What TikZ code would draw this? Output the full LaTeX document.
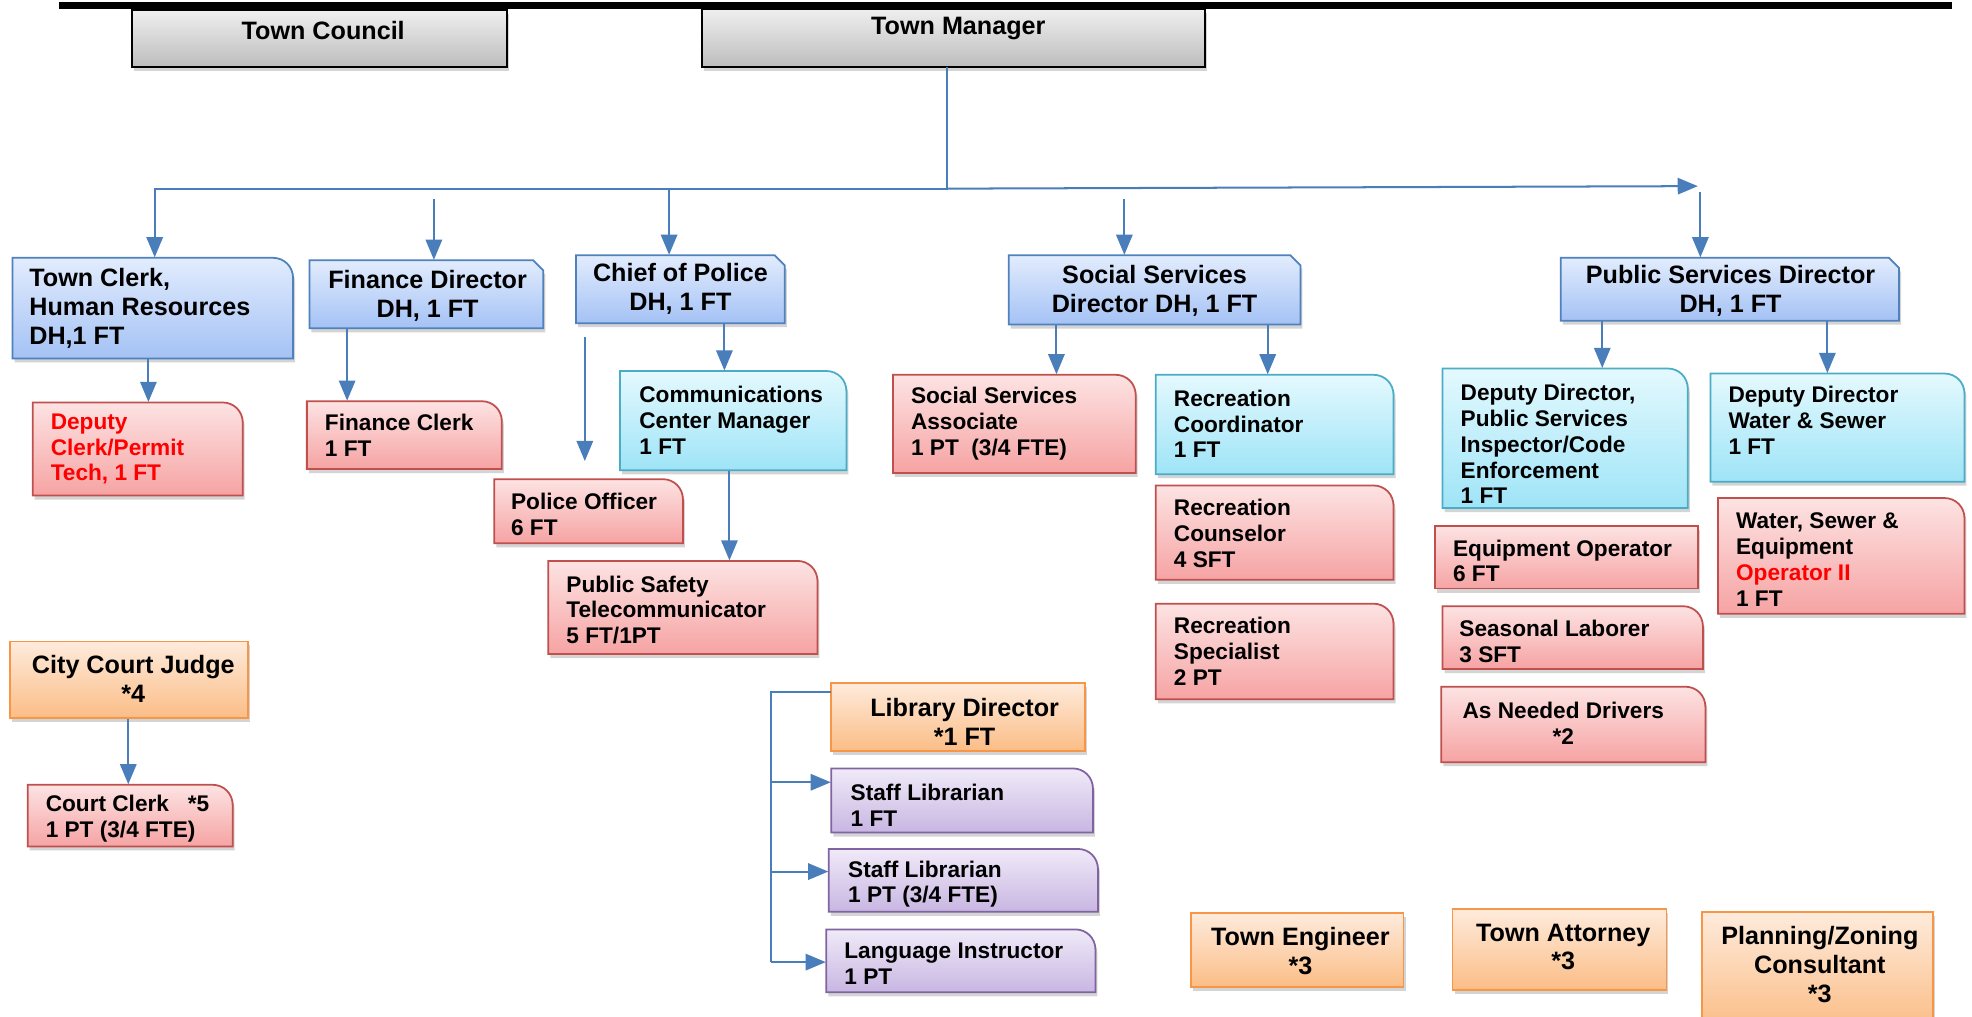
\documentclass[tikz,border=0pt]{standalone}
\usepackage{fontspec}
\setmainfont{Liberation Sans}
\usetikzlibrary{arrows.meta,shadows}
\definecolor{arrc}{HTML}{4A7EBB}
\definecolor{bluT}{HTML}{E2ECFD}
\definecolor{bluB}{HTML}{A4C2F5}
\definecolor{bluD}{HTML}{4F81BD}
\definecolor{cyaT}{HTML}{E4F9FE}
\definecolor{cyaB}{HTML}{9EE4F7}
\definecolor{cyaD}{HTML}{4BACC6}
\definecolor{redT}{HTML}{FDE3E3}
\definecolor{redB}{HTML}{F6A3A3}
\definecolor{redD}{HTML}{C0504D}
\definecolor{oraT}{HTML}{FEEBDC}
\definecolor{oraB}{HTML}{FBBD86}
\definecolor{oraD}{HTML}{F79646}
\definecolor{purT}{HTML}{F0EAF8}
\definecolor{purB}{HTML}{C8B6E2}
\definecolor{purD}{HTML}{8064A2}
\definecolor{gryT}{HTML}{EFEFEF}
\definecolor{gryB}{HTML}{BDBDBD}
\tikzset{
  shd/.style={drop shadow={opacity=0.3,shadow xshift=0.8pt,shadow yshift=-1.6pt,fill=black!55}},
  bluef/.style={top color=bluT,bottom color=bluB,draw=bluD,line width=0.7pt},
  cyaf/.style={top color=cyaT,bottom color=cyaB,draw=cyaD,line width=0.7pt},
  redf/.style={top color=redT,bottom color=redB,draw=redD,line width=0.7pt},
  oraf/.style={top color=oraT,bottom color=oraB,draw=oraD,line width=0.7pt},
  purf/.style={top color=purT,bottom color=purB,draw=purD,line width=0.7pt},
  gryf/.style={top color=gryT,bottom color=gryB,draw=black,line width=0.8pt},
  boxframe/.style={inner sep=0pt,draw=none,rectangle},
  tn/.style={inner sep=0pt,font=\bfseries\fontsize{9}{10.3}\selectfont,align=left},
  tb/.style={inner sep=0pt,font=\bfseries\fontsize{10}{11.5}\selectfont,align=center},
  arr/.style={draw=arrc,line width=0.8pt,-{Triangle[length=8pt,width=6.5pt]}},
  ln/.style={draw=arrc,line width=0.8pt}
}
% rounded top-right corner box
\newcommand\rbx[6]{%
  \path[#1,shd] (#3,#4) -- ({#5-16},#4) .. controls ({#5-7},#4) and (#5,{#4+7}) .. (#5,{#4+16}) -- (#5,#6) -- (#3,#6) -- cycle;
  \node[boxframe,minimum width={(#5-#3)*0.5pt},minimum height={(#6-#4)*0.5pt}] (#2) at ({(#3+#5)/2},{(#4+#6)/2}) {};}
% chamfered top-right corner box
\newcommand\cbx[6]{%
  \path[#1,shd] (#3,#4) -- ({#5-8},#4) -- (#5,{#4+8}) -- (#5,#6) -- (#3,#6) -- cycle;
  \node[boxframe,minimum width={(#5-#3)*0.5pt},minimum height={(#6-#4)*0.5pt}] (#2) at ({(#3+#5)/2},{(#4+#6)/2}) {};}
% plain box
\newcommand\pbx[6]{%
  \path[#1,shd] (#3,#4) rectangle (#5,#6);
  \node[boxframe,minimum width={(#5-#3)*0.5pt},minimum height={(#6-#4)*0.5pt}] (#2) at ({(#3+#5)/2},{(#4+#6)/2}) {};}
\begin{document}
\begin{tikzpicture}[x=0.5pt,y=-0.5pt]
\fill[white] (0,0) rectangle (1568,808);
\useasboundingbox (0,0) rectangle (1568,808);

% top rule
\draw[line width=2.6pt] (47,4.5) -- (1552,4.5);

% boxes
\pbx{gryf}{tcn}{105}{8}{403}{53}
\pbx{gryf}{tm}{558}{7}{958}{53}

\rbx{bluef}{tclk}{10}{205}{233}{285}
\cbx{bluef}{fd}{246}{207}{432}{261}
\cbx{bluef}{cop}{458}{203}{624}{257}
\cbx{bluef}{ssd}{802}{203}{1034}{258}
\cbx{bluef}{psd}{1241}{205}{1510}{255}

\rbx{redf}{dcl}{26}{320}{193}{394}
\rbx{redf}{fcl}{244}{319}{399}{373}
\rbx{redf}{po}{393}{381}{543}{432}
\rbx{redf}{pst}{436}{446}{650}{520}
\rbx{redf}{ssa}{710}{298}{903}{376}
\rbx{redf}{rcs}{919}{386}{1108}{461}
\rbx{redf}{rsp}{919}{480}{1108}{556}
\rbx{redf}{wse}{1366}{396}{1562}{488}
\pbx{redf}{eqo}{1141}{418}{1350}{468}
\rbx{redf}{sla}{1147}{482}{1354}{532}
\rbx{redf}{drv}{1146}{546}{1356}{606}
\rbx{redf}{ccl}{22}{624}{185}{673}

\rbx{cyaf}{ccm}{493}{295}{673}{374}
\rbx{cyaf}{rco}{919}{298}{1108}{377}
\rbx{cyaf}{ddp}{1147}{293}{1342}{404}
\rbx{cyaf}{dws}{1360}{297}{1562}{383}

\pbx{oraf}{ccj}{8}{510}{197}{571}
\pbx{oraf}{libd}{661}{543}{863}{597}
\pbx{oraf}{ten}{947}{726}{1116}{785}
\pbx{oraf}{tat}{1155}{723}{1325}{787}
\pbx{oraf}{pzc}{1353}{725}{1537}{818}

\rbx{purf}{sl1}{661}{611}{869}{662}
\rbx{purf}{sl2}{659}{675}{873}{725}
\rbx{purf}{lin}{657}{739}{871}{789}

% texts
\node[tb] (tcn-t) at (257,24) {Town Council};
\node[tb] (tm-t) at (762,23) {Town Manager};
\node[tb,align=left,anchor=west] (tclk-t) at (23,245) {Town Clerk,\\Human Resources\\DH,1 FT};
\node[tb] (fd-t) at (340,235) {Finance Director\\DH, 1 FT};
\node[tb] (cop-t) at (541,230) {Chief of Police\\DH, 1 FT};
\node[tb] (ssd-t) at (918,231) {Social Services\\Director DH, 1 FT};
\node[tb] (psd-t) at (1376,231) {Public Services Director\\DH, 1 FT};

\node[tn,anchor=west,text=red] (dcl-t) at (40,357) {Deputy\\Clerk/Permit\\Tech, 1 FT};
\node[tn,anchor=west] (fcl-t) at (258,346) {Finance Clerk\\1 FT};
\node[tn,anchor=west] (po-t) at (406,409) {Police Officer\\6 FT};
\node[tn,anchor=west] (ccm-t) at (508,334) {Communications\\Center Manager\\1 FT};
\node[tn,anchor=west] (pst-t) at (450,485) {Public Safety\\Telecommunicator\\5 FT/1PT};
\node[tn,anchor=west] (ssa-t) at (724,337) {Social Services\\Associate\\1 PT~~(3/4 FTE)};
\node[tn,anchor=west] (rco-t) at (933,337) {Recreation\\Coordinator\\1 FT};
\node[tn,anchor=west] (rcs-t) at (933,424) {Recreation\\Counselor\\4 SFT};
\node[tn,anchor=west] (rsp-t) at (933,518) {Recreation\\Specialist\\2 PT};
\node[tn,anchor=west] (ddp-t) at (1161,353) {Deputy Director,\\Public Services\\Inspector/Code\\Enforcement\\1 FT};
\node[tn,anchor=west] (dws-t) at (1374,334) {Deputy Director\\Water \& Sewer\\1 FT};
\node[tn,anchor=west] (eqo-t) at (1155,446) {Equipment Operator\\6 FT};
\node[tn,anchor=west] (wse-t) at (1380,445) {Water, Sewer \&\\Equipment\\{\color{red}Operator II}\\1 FT};
\node[tn,anchor=west] (sla-t) at (1160,510) {Seasonal Laborer\\3 SFT};
\node[tn,align=center] (drv-t) at (1243,575) {As Needed Drivers\\*2};

\node[tb] (ccj-t) at (106,540) {City Court Judge\\*4};
\node[tn,anchor=west] (ccl-t) at (36,651) {Court Clerk~~~*5\\1 PT (3/4 FTE)};

\node[tb] (libd-t) at (767,574) {Library Director\\*1 FT};
\node[tn,anchor=west] (sl1-t) at (676,640) {Staff Librarian\\1 FT};
\node[tn,anchor=west] (sl2-t) at (674,703) {Staff Librarian\\1 PT (3/4 FTE)};
\node[tn,anchor=west] (lin-t) at (671,766) {Language Instructor\\1 PT};

\node[tb] (ten-t) at (1034,756) {Town Engineer\\*3};
\node[tb] (tat-t) at (1243,753) {Town Attorney\\*3};
\node[tb] (pzc-t) at (1447,767) {Planning/Zoning\\Consultant\\*3};

% free connector ends
\coordinate (hj) at (753,150);
\coordinate (hr) at (1350,148);
\coordinate (fdtop) at (345,158);
\coordinate (coptop) at (532,150);
\coordinate (ssdtop) at (894,158);
\coordinate (psdtop) at (1352,153);
\coordinate (potop) at (465,268);
\coordinate (libtop) at (613,550);

% connectors
\draw[arr] (753,0 |- tm.south) -- (hj) -- (123,150) -- (123,0 |- tclk.north);
\draw[arr] (hj) -- (hr);
\draw[arr] (fdtop) -- (345,0 |- fd.north);
\draw[arr] (coptop) -- (532,0 |- cop.north);
\draw[arr] (ssdtop) -- (894,0 |- ssd.north);
\draw[arr] (psdtop) -- (1352,0 |- psd.north);

\draw[arr] (118,0 |- tclk.south) -- (118,0 |- dcl.north);
\draw[arr] (276,0 |- fd.south) -- (276,0 |- fcl.north);
\draw[arr,shorten >=7pt] (potop) -- (465,0 |- po.north);
\draw[arr] (576,0 |- cop.south) -- (576,0 |- ccm.north);
\draw[arr] (580,0 |- ccm.south) -- (580,0 |- pst.north);
\draw[arr] (840,0 |- ssd.south) -- (840,0 |- ssa.north);
\draw[arr] (1008,0 |- ssd.south) -- (1008,0 |- rco.north);
\draw[arr] (1274,0 |- psd.south) -- (1274,0 |- ddp.north);
\draw[arr] (1453,0 |- psd.south) -- (1453,0 |- dws.north);
\draw[arr] (102,0 |- ccj.south) -- (102,0 |- ccl.north);

\draw[ln] (libd.west |- 0,550) -- (libtop) -- (613,765);
\draw[arr] (613,622) -- (sl1.west |- 0,622);
\draw[arr] (613,693) -- (sl2.west |- 0,693);
\draw[arr] (613,765) -- (lin.west |- 0,765);
\end{tikzpicture}
\end{document}
